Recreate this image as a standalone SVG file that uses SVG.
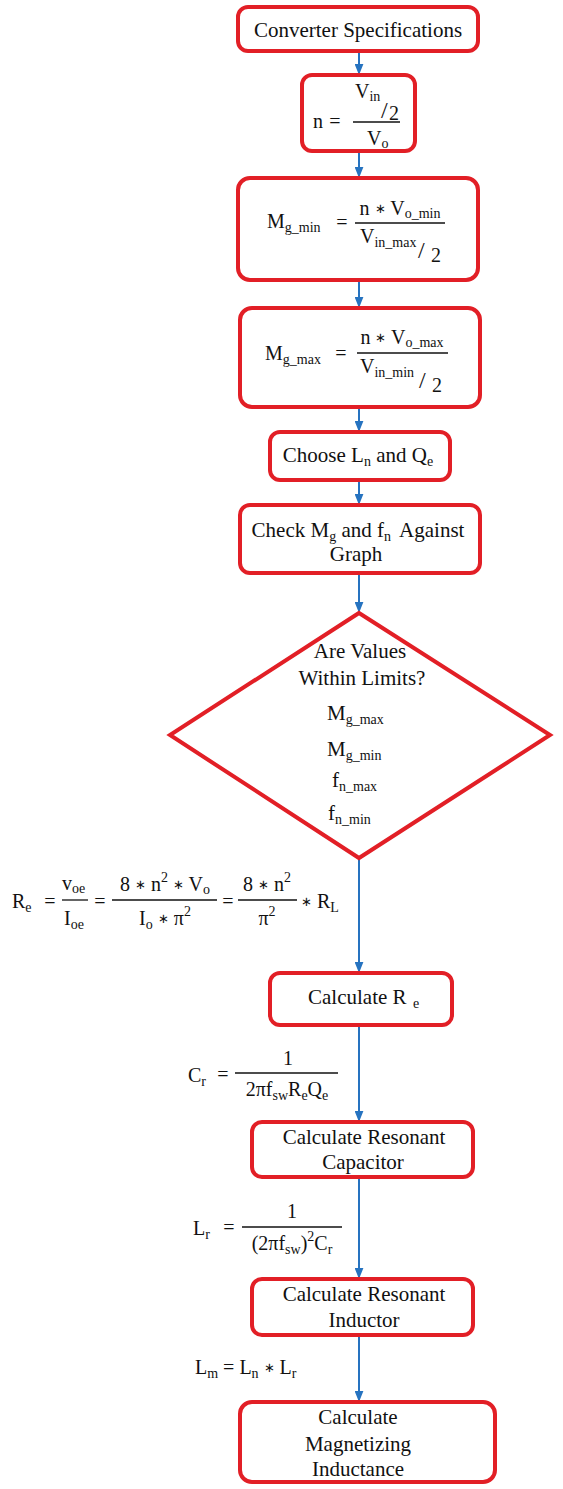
<svg xmlns="http://www.w3.org/2000/svg" width="563" height="1489" viewBox="0 0 563 1489">
<style>
.box{fill:#fff;stroke:#E21F26;stroke-width:4}
.dia{fill:#fff;stroke:#E21F26;stroke-width:4;stroke-linejoin:miter}
.conn{stroke:#2673C0;stroke-width:2;fill:none;marker-end:url(#arr)}
.t{font-family:"Liberation Serif","Times New Roman",serif;font-size:21px;fill:#111}
.m{font-family:"Liberation Serif","Times New Roman",serif;font-size:20px;fill:#111}
.sub{font-size:14px}
.ast{font-size:13px}
.sl{font-size:24px}
.frac{stroke:#111;stroke-width:1.3}
</style>
<defs>
<marker id="arr" viewBox="0 0 10 8" refX="10" refY="4" markerWidth="11" markerHeight="9" markerUnits="userSpaceOnUse" orient="auto">
<path d="M0,0 L10,4 L0,8 z" fill="#2673C0"/>
</marker>
</defs>
<rect width="563" height="1489" fill="#fff"/>

<g id="connectors">
<line class="conn" x1="359" y1="51" x2="359" y2="75"/>
<line class="conn" x1="359" y1="151" x2="359" y2="178"/>
<line class="conn" x1="359" y1="280" x2="359" y2="308"/>
<line class="conn" x1="359" y1="407" x2="359" y2="432"/>
<line class="conn" x1="359" y1="480" x2="359" y2="505"/>
<line class="conn" x1="359" y1="573" x2="359" y2="613"/>
<line class="conn" x1="359" y1="858" x2="359" y2="973"/>
<line class="conn" x1="359" y1="1025" x2="359" y2="1122"/>
<line class="conn" x1="359" y1="1177" x2="359" y2="1279"/>
<line class="conn" x1="359" y1="1335" x2="359" y2="1402"/>
</g>

<g id="spec">
<rect class="box" x="238" y="7" width="240" height="44" rx="10"/>
<text class="t" x="358" y="37" text-anchor="middle">Converter Specifications</text>
</g>

<g id="n-ratio">
<rect class="box" x="302" y="75" width="113" height="76" rx="10"/>
<text class="m" x="313" y="128">n</text>
<text class="m" x="335" y="128" text-anchor="middle">=</text>
<line class="frac" x1="353" y1="122" x2="400" y2="122"/>
<text class="m" x="355" y="98">V<tspan class="sub" dy="3">in</tspan></text>
<text class="m sl" x="381" y="118">/</text>
<text class="m" x="389" y="120">2</text>
<text class="m" x="367" y="145">V<tspan class="sub" dy="3">o</tspan></text>
</g>

<g id="mg-min">
<rect class="box" x="238" y="178" width="240" height="102" rx="12"/>
<text class="m" x="267" y="228">M<tspan class="sub" dy="4">g_min</tspan></text>
<text class="m" x="342" y="229" text-anchor="middle">=</text>
<line class="frac" x1="355" y1="223" x2="445" y2="223"/>
<text class="m" x="400" y="215" text-anchor="middle">n <tspan class="ast" dy="-2">∗</tspan><tspan dy="2"> V</tspan><tspan class="sub" dy="3">o_min</tspan></text>
<text class="m" x="360" y="243">V<tspan class="sub" dy="4">in_max</tspan></text>
<text class="m sl" x="418" y="258">/</text>
<text class="m" x="431" y="262">2</text>
</g>

<g id="mg-max">
<rect class="box" x="240" y="308" width="240" height="99" rx="12"/>
<text class="m" x="265" y="360">M<tspan class="sub" dy="4">g_max</tspan></text>
<text class="m" x="341" y="360" text-anchor="middle">=</text>
<line class="frac" x1="357" y1="353" x2="448" y2="353"/>
<text class="m" x="402" y="344" text-anchor="middle">n <tspan class="ast" dy="-2">∗</tspan><tspan dy="2"> V</tspan><tspan class="sub" dy="3">o_max</tspan></text>
<text class="m" x="360" y="373">V<tspan class="sub" dy="4">in_min</tspan></text>
<text class="m sl" x="419" y="388">/</text>
<text class="m" x="432" y="392">2</text>
</g>

<g id="choose">
<rect class="box" x="270" y="432" width="180" height="48" rx="10"/>
<text class="t" x="358" y="462" text-anchor="middle">Choose L<tspan class="sub" dy="4">n</tspan><tspan dy="-4"> and Q</tspan><tspan class="sub" dy="4">e</tspan></text>
</g>

<g id="check">
<rect class="box" x="240" y="505" width="240" height="68" rx="10"/>
<text class="t" x="358" y="537" text-anchor="middle">Check M<tspan class="sub" dy="4">g</tspan><tspan dy="-4"> and f</tspan><tspan class="sub" dy="4">n</tspan><tspan dy="-4" dx="4"> Against</tspan></text>
<text class="t" x="356" y="561" text-anchor="middle">Graph</text>
</g>

<g id="decision">
<polygon class="dia" points="359,613 550,735 359,858 170,735"/>
<text class="t" x="360" y="658" text-anchor="middle">Are Values</text>
<text class="t" x="362" y="685" text-anchor="middle">Within Limits?</text>
<text class="t" x="327" y="720">M<tspan class="sub" dy="4">g_max</tspan></text>
<text class="t" x="327" y="756">M<tspan class="sub" dy="4">g_min</tspan></text>
<text class="t" x="332" y="787">f<tspan class="sub" dy="4">n_max</tspan></text>
<text class="t" x="328" y="820">f<tspan class="sub" dy="4">n_min</tspan></text>
</g>

<g id="re-formula">
<text class="m" x="12" y="908">R<tspan class="sub" dy="4">e</tspan></text>
<text class="m" x="50" y="908" text-anchor="middle">=</text>
<line class="frac" x1="62" y1="900" x2="88" y2="900"/>
<text class="m" x="62" y="890">v<tspan class="sub" dy="3">oe</tspan></text>
<text class="m" x="64" y="925">I<tspan class="sub" dy="4">oe</tspan></text>
<text class="m" x="100" y="908" text-anchor="middle">=</text>
<line class="frac" x1="112" y1="900" x2="217" y2="900"/>
<text class="m" x="165" y="891" text-anchor="middle">8 <tspan class="ast" dy="-2">∗</tspan><tspan dy="2"> n</tspan><tspan class="sub" dy="-9">2</tspan><tspan dy="9"> </tspan><tspan class="ast" dy="-2">∗</tspan><tspan dy="2"> V</tspan><tspan class="sub" dy="3">o</tspan></text>
<text class="m" x="165" y="925" text-anchor="middle">I<tspan class="sub" dy="4">o</tspan><tspan dy="-4"> </tspan><tspan class="ast" dy="-2">∗</tspan><tspan dy="2"> π</tspan><tspan class="sub" dy="-9">2</tspan></text>
<text class="m" x="228" y="908" text-anchor="middle">=</text>
<line class="frac" x1="238" y1="900" x2="297" y2="900"/>
<text class="m" x="267" y="891" text-anchor="middle">8 <tspan class="ast" dy="-2">∗</tspan><tspan dy="2"> n</tspan><tspan class="sub" dy="-9">2</tspan></text>
<text class="m" x="267" y="925" text-anchor="middle">π<tspan class="sub" dy="-9">2</tspan></text>
<text class="m" x="301" y="908"><tspan class="ast" dy="-2">∗</tspan><tspan dy="2"> R</tspan><tspan class="sub" dy="4">L</tspan></text>
</g>

<g id="calc-re">
<rect class="box" x="270" y="973" width="182" height="52" rx="10"/>
<text class="t" x="308" y="1004">Calculate R</text>
<text class="t sub" x="413" y="1008">e</text>
</g>

<g id="cr-formula">
<text class="m" x="188" y="1082">C<tspan class="sub" dy="4">r</tspan></text>
<text class="m" x="223" y="1081" text-anchor="middle">=</text>
<line class="frac" x1="235" y1="1073" x2="338" y2="1073"/>
<text class="m" x="288" y="1065" text-anchor="middle">1</text>
<text class="m" x="287" y="1096" text-anchor="middle">2πf<tspan class="sub" dy="4">sw</tspan><tspan dy="-4">R</tspan><tspan class="sub" dy="4">e</tspan><tspan dy="-4">Q</tspan><tspan class="sub" dy="4">e</tspan></text>
</g>

<g id="calc-cr">
<rect class="box" x="252" y="1122" width="221" height="55" rx="10"/>
<text class="t" x="364" y="1144" text-anchor="middle">Calculate Resonant</text>
<text class="t" x="363" y="1169" text-anchor="middle">Capacitor</text>
</g>

<g id="lr-formula">
<text class="m" x="193" y="1235">L<tspan class="sub" dy="4">r</tspan></text>
<text class="m" x="229" y="1234" text-anchor="middle">=</text>
<line class="frac" x1="242" y1="1227" x2="342" y2="1227"/>
<text class="m" x="292" y="1218" text-anchor="middle">1</text>
<text class="m" x="292" y="1250" text-anchor="middle">(2πf<tspan class="sub" dy="4">sw</tspan><tspan dy="-4">)</tspan><tspan class="sub" dy="-9">2</tspan><tspan dy="9">C</tspan><tspan class="sub" dy="4">r</tspan></text>
</g>

<g id="calc-lr">
<rect class="box" x="252" y="1279" width="221" height="56" rx="10"/>
<text class="t" x="364" y="1301" text-anchor="middle">Calculate Resonant</text>
<text class="t" x="364" y="1327" text-anchor="middle">Inductor</text>
</g>

<g id="lm-formula">
<text class="m" x="195" y="1374">L<tspan class="sub" dy="4">m</tspan><tspan dy="-4"> = L</tspan><tspan class="sub" dy="4">n</tspan><tspan dy="-4"> </tspan><tspan class="ast" dy="-2">∗</tspan><tspan dy="2"> L</tspan><tspan class="sub" dy="4">r</tspan></text>
</g>

<g id="calc-lm">
<rect class="box" x="240" y="1402" width="255" height="80" rx="12"/>
<text class="t" x="358" y="1424" text-anchor="middle">Calculate</text>
<text class="t" x="358" y="1451" text-anchor="middle">Magnetizing</text>
<text class="t" x="358" y="1476" text-anchor="middle">Inductance</text>
</g>
</svg>
